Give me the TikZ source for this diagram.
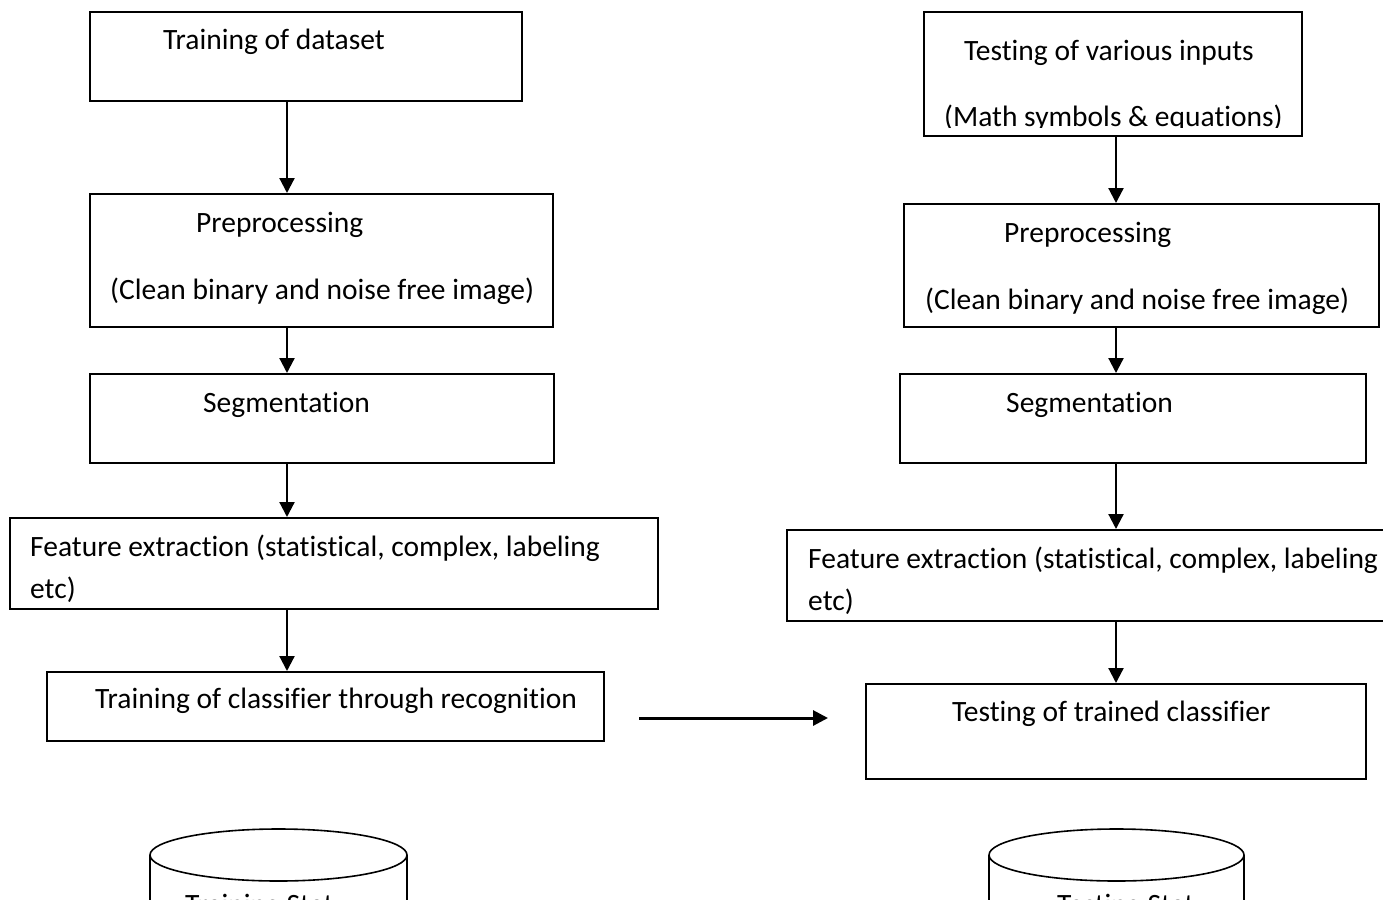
\documentclass[tikz,border=0pt]{standalone}
\usepackage{fontspec}
\setmainfont{Carlito}[Ligatures=NoCommon]
\usetikzlibrary{arrows.meta}
\begin{document}
\begin{tikzpicture}[x=1pt,y=-1pt,
  box/.style={draw, line width=1.8pt, inner sep=0pt, anchor=north west},
  txt/.style={anchor=base west, inner sep=0pt, font=\fontsize{29.5}{35}\selectfont},
  arr/.style={line width=2.2pt, -{Triangle[length=15pt,width=15pt]}},
  cyl/.style={line width=1.6pt}]
\useasboundingbox (0,0) rectangle (1383,899);
\clip (0,0) rectangle (1383,899);
\fill[white] (0,0) rectangle (1383,899);
\coordinate (Lx) at (287,0);
\coordinate (Rx) at (1116,0);
% left column
\node[box, minimum width=432pt, minimum height=89pt] (b1) at (89,11) {};
\node[txt] (t1) at (163,50) {Training of dataset};
\node[box, minimum width=463pt, minimum height=133pt] (b2) at (89,193) {};
\node[txt] (t2a) at (196,232) {Preprocessing};
\node[txt] (t2b) at (110,299) {(Clean binary and noise free image)};
\node[box, minimum width=464pt, minimum height=89pt] (b3) at (89,373) {};
\node[txt] (t3) at (203,412) {Segmentation};
\node[box, minimum width=648pt, minimum height=91pt] (b4) at (9,517) {};
\node[txt] (t4a) at (30,556) {Feature extraction (statistical, complex, labeling};
\node[txt] (t4b) at (30,598) {etc)};
\node[box, minimum width=557pt, minimum height=69pt] (b5) at (46,671) {};
\node[txt] (t5) at (95,708) {Training of classifier through recognition};
% right column
\node[box, minimum width=378pt, minimum height=124pt] (r1) at (923,11) {};
\node[txt] (s1a) at (964,60) {Testing of various inputs};
\begin{scope}
\clip (923,11) rectangle (1301,127.5);
\node[txt] (s1b) at (944,126) {(Math symbols \& equations)};
\end{scope}
\node[box, minimum width=475pt, minimum height=123pt] (r2) at (903,203) {};
\node[txt] (s2a) at (1004,242) {Preprocessing};
\node[txt] (s2b) at (925,309) {(Clean binary and noise free image)};
\node[box, minimum width=466pt, minimum height=89pt] (r3) at (899,373) {};
\node[txt] (s3) at (1006,412) {Segmentation};
\node[box, minimum width=640pt, minimum height=91pt] (r4) at (786,529) {};
\node[txt] (s4a) at (808,568) {Feature extraction (statistical, complex, labeling};
\node[txt] (s4b) at (808,610) {etc)};
\node[box, minimum width=500pt, minimum height=95pt] (r5) at (865,683) {};
\node[txt] (s5) at (952,721) {Testing of trained classifier};
% arrows
\draw[arr] (b1.south -| Lx) -- (b2.north -| Lx);
\draw[arr] (b2.south -| Lx) -- (b3.north -| Lx);
\draw[arr] (b3.south -| Lx) -- (b4.north -| Lx);
\draw[arr] (b4.south -| Lx) -- (b5.north -| Lx);
\draw[arr] (r1.south -| Rx) -- (r2.north -| Rx);
\draw[arr] (r2.south -| Rx) -- (r3.north -| Rx);
\draw[arr] (r3.south -| Rx) -- (r4.north -| Rx);
\draw[arr] (r4.south -| Rx) -- (r5.north -| Rx);
\coordinate (m1) at (639,718);
\coordinate (m2) at (828,718);
\draw[arr, line width=3pt] (m1) -- (m2);
% cylinders
\draw[cyl] (278.5,855) ellipse [x radius=128.5, y radius=26];
\draw[cyl] (150,855) -- (150,920);
\draw[cyl] (407,855) -- (407,920);
\node[txt] (c1) at (185,914) {Training Stat};
\draw[cyl] (1116.5,855) ellipse [x radius=127.5, y radius=26];
\draw[cyl] (989,855) -- (989,920);
\draw[cyl] (1244,855) -- (1244,920);
\node[txt] (c2) at (1057,914) {Testing Stat};
\end{tikzpicture}
\end{document}
